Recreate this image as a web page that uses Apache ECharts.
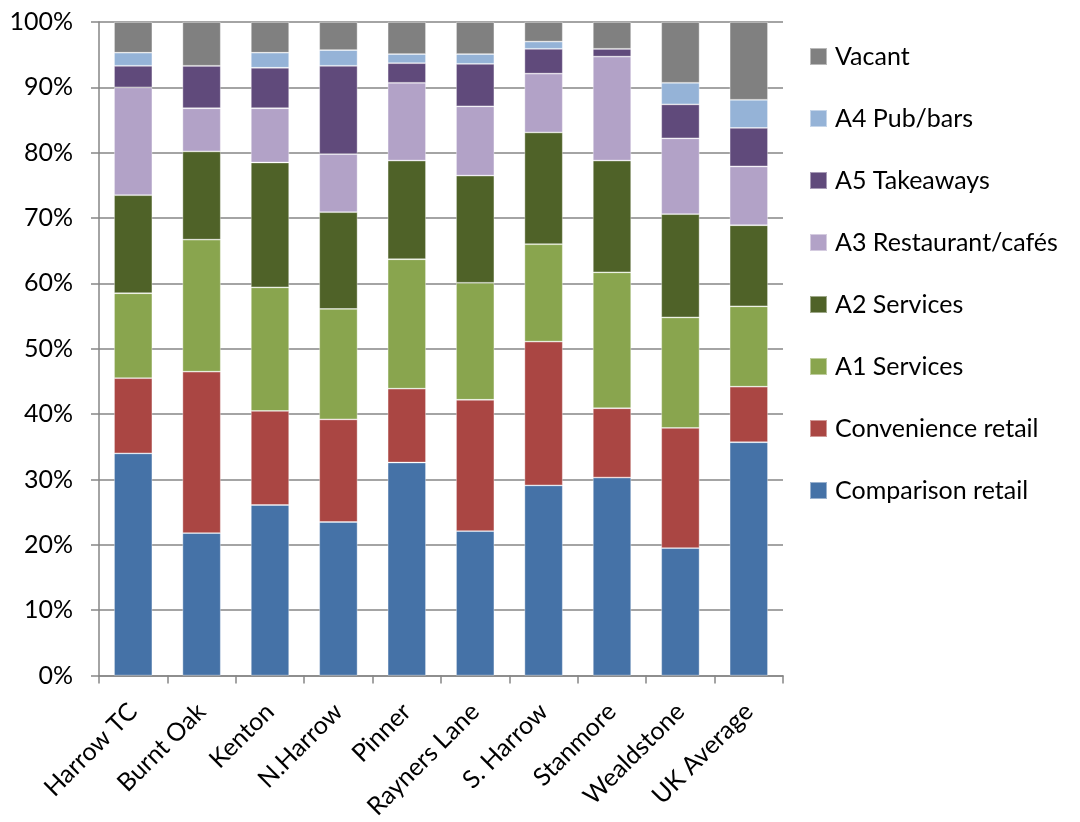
<!DOCTYPE html>
<html>
<head>
<meta charset="utf-8">
<script src="https://cdn.jsdelivr.net/npm/echarts@6/dist/echarts.min.js"></script>
<style>html,body{margin:0;padding:0;background:#fff}#c{width:1080px;height:822px}</style>
</head>
<body>
<div id="c"></div>
<script>
const categories = ['Harrow TC','Burnt Oak','Kenton','N.Harrow','Pinner','Rayners Lane','S. Harrow','Stanmore','Wealdstone','UK Average'];
const yTicks = [0,10,20,30,40,50,60,70,80,90,100];
const comparisonRetail = [34.0,21.8,26.1,23.5,32.6,22.1,29.1,30.3,19.5,35.7];
const convenienceRetail = [11.5,24.7,14.4,15.7,11.3,20.1,22.0,10.6,18.4,8.5];
const a1Services = [13.0,20.2,18.9,16.9,19.8,17.9,14.9,20.8,16.9,12.3];
const a2Services = [15.0,13.5,19.1,14.8,15.1,16.4,17.1,17.1,15.8,12.4];
const a3Restaurants = [16.5,6.6,8.3,8.9,11.9,10.6,9.0,15.9,11.6,9.0];
const a5Takeaways = [3.3,6.5,6.2,13.5,3.0,6.5,3.8,1.2,5.2,5.9];
const a4PubBars = [2.0,0.0,2.3,2.4,1.4,1.5,1.1,0.0,3.3,4.3];
const vacant = [4.7,6.7,4.7,4.3,4.9,4.9,3.0,4.1,9.3,11.9];

const seriesDefs = [
  ['Comparison retail', comparisonRetail, '#4572A7'],
  ['Convenience retail', convenienceRetail, '#AA4643'],
  ['A1 Services', a1Services, '#89A54E'],
  ['A2 Services', a2Services, '#4F6228'],
  ['A3 Restaurant/cafés', a3Restaurants, '#B2A2C7'],
  ['A5 Takeaways', a5Takeaways, '#604A7B'],
  ['A4 Pub/bars', a4PubBars, '#95B3D7'],
  ['Vacant', vacant, '#808080']
];
const FONT = 'Lato';
const chart = echarts.init(document.getElementById('c'));
chart.setOption({
  animation: false,
  textStyle: {fontFamily: FONT, color: '#000'},
  grid: {left: 99, right: 297, top: 22, bottom: 145},
  legend: {
    orient: 'vertical',
    left: 804, top: 39,
    itemWidth: 17, itemHeight: 17, itemGap: 37,
    icon: 'rect',
    data: seriesDefs.map(s => s[0]).reverse(),
    textStyle: {fontFamily: FONT, fontSize: 25, lineHeight: 25, color: '#000', padding: [0,0,0,3]}
  },
  xAxis: {
    type: 'category',
    data: categories,
    axisLine: {lineStyle: {color: '#868686', width: 1.5}},
    axisTick: {show: true, length: 8, lineStyle: {color: '#868686', width: 1.5}},
    axisLabel: {rotate: 45, fontSize: 25, color: '#000', fontFamily: FONT, margin: 32}
  },
  yAxis: {
    type: 'value', min: 0, max: 100, interval: 10,
    axisLine: {show: true, lineStyle: {color: '#868686', width: 1.5}},
    axisTick: {show: true, length: 8, lineStyle: {color: '#868686', width: 1.5}},
    splitLine: {lineStyle: {color: '#868686', width: 1.5}},
    axisLabel: {formatter: v => yTicks.includes(v) ? v + '%' : '', fontSize: 25, color: '#000', fontFamily: FONT, margin: 26}
  },
  series: seriesDefs.map(([name, data, color]) => ({
    name, type: 'bar', stack: 'total', data,
    barWidth: '56%',
    itemStyle: {color, borderColor: 'rgba(255,255,255,0.45)', borderWidth: 0.8}
  }))
});
</script>
</body>
</html>
